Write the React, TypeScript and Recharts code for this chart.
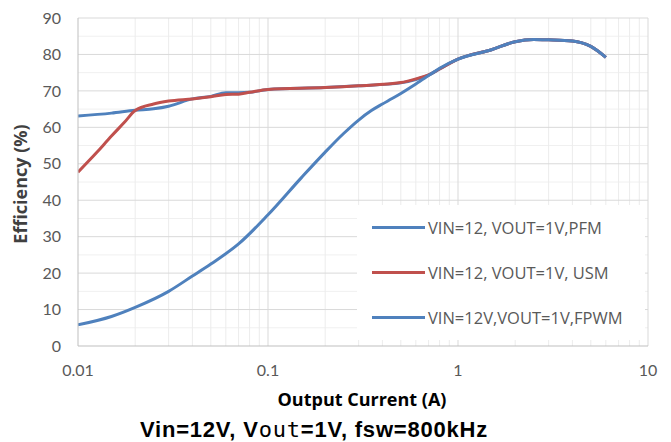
import React from 'react';
import { LineChart, Line, XAxis, YAxis, ReferenceLine, Label } from 'recharts';

// 출력 전류 (A) / 효율 (%)
const pfmCurrent = [0.01, 0.015, 0.02, 0.025, 0.03, 0.04, 0.05, 0.06, 0.07, 0.08, 0.1, 0.2, 0.3, 0.5, 0.6, 0.7, 0.8, 1, 1.5, 2, 2.5, 3, 4, 5, 6];
const pfmEfficiency = [63.1, 63.9, 64.7, 65.1, 65.8, 67.8, 68.5, 69.5, 69.5, 69.6, 70.4, 70.9, 71.4, 72.2, 73.1, 74.3, 76.0, 78.7, 81.3, 83.5, 84.1, 84.0, 83.7, 82.2, 79.2];

const usmCurrent = [0.01, 0.0125, 0.015, 0.0175, 0.02, 0.025, 0.03, 0.04, 0.05, 0.06, 0.07, 0.08, 0.1, 0.2, 0.3, 0.5, 0.6, 0.7, 0.8, 1, 1.5, 2, 2.5, 3, 4, 5, 6];
const usmEfficiency = [47.7, 53.0, 57.6, 61.3, 64.6, 66.4, 67.2, 67.8, 68.4, 69.0, 69.1, 69.6, 70.4, 70.9, 71.4, 72.3, 73.3, 74.4, 76.0, 78.7, 81.3, 83.5, 84.1, 84.0, 83.7, 82.2, 79.2];

const fpwmCurrent = [0.01, 0.015, 0.02, 0.03, 0.04, 0.05, 0.07, 0.1, 0.15, 0.2, 0.25, 0.3, 0.35, 0.4, 0.45, 0.5, 0.6, 0.7, 0.8, 1, 1.5, 2, 2.5, 3, 4, 5, 6];
const fpwmEfficiency = [5.8, 8.1, 10.6, 15.0, 19.2, 22.5, 28.0, 36.0, 46.2, 53.2, 58.3, 62.0, 64.6, 66.4, 67.9, 69.3, 71.9, 74.2, 76.2, 78.7, 81.3, 83.5, 84.1, 84.0, 83.7, 82.2, 79.2];

const xTicks = [0.01, 0.1, 1, 10];
const yTicks = [0, 10, 20, 30, 40, 50, 60, 70, 80, 90];
const yMinor = [5, 15, 25, 35, 45, 55, 65, 75, 85];
const xMinor = [
  0.02, 0.03, 0.04, 0.05, 0.06, 0.07, 0.08, 0.09,
  0.2, 0.3, 0.4, 0.5, 0.6, 0.7, 0.8, 0.9,
  2, 3, 4, 5, 6, 7, 8, 9,
];

const BLUE = '#4f81bd';
const RED = '#c0504d';

const series = [
  { name: 'VIN=12, VOUT=1V,PFM', color: BLUE, current: pfmCurrent, eff: pfmEfficiency },
  { name: 'VIN=12, VOUT=1V, USM', color: RED, current: usmCurrent, eff: usmEfficiency },
  { name: 'VIN=12V,VOUT=1V,FPWM', color: BLUE, current: fpwmCurrent, eff: fpwmEfficiency },
];

const toPoints = (current: number[], eff: number[]) =>
  current.map((c, i) => ({ current: c, eff: eff[i] }));

const tickStyle = { fontFamily: 'Lato', fontSize: 16, fill: '#595959' };
const titleFont = { fontFamily: '"Open Sans"', fontWeight: 700, fontSize: 18 };

export default function App() {
  return (
    <div style={{ position: 'absolute', left: 0, top: 0, width: 671, height: 442, background: '#fff' }}>
      <LineChart width={671} height={442} margin={{ top: 18, right: 23, left: 18, bottom: 66 }}>
        <XAxis
          dataKey="current"
          type="number"
          scale="log"
          domain={[0.01, 10]}
          ticks={xTicks}
          allowDataOverflow
          tickFormatter={(v: number) => String(v)}
          tick={tickStyle}
          tickSize={0}
          tickMargin={19}
          height={30}
          stroke="#bfbfbf"
        >
          <Label
            content={({ viewBox }: any) => (
              <text
                x={viewBox.x + viewBox.width / 2 - 1}
                y={viewBox.y + 60}
                textAnchor="middle"
                style={{ ...titleFont, fill: '#000' }}
              >
                Output Current (A)
              </text>
            )}
          />
        </XAxis>
        <YAxis
          type="number"
          domain={[0, 90]}
          ticks={yTicks}
          tick={tickStyle}
          tickSize={0}
          tickMargin={17}
          width={60}
          stroke="#bfbfbf"
        >
          <Label
            content={({ viewBox }: any) => {
              const cx = viewBox.x + 2;
              const cy = viewBox.y + viewBox.height / 2 + 2;
              return (
                <text
                  x={cx}
                  y={cy}
                  textAnchor="middle"
                  dominantBaseline="central"
                  transform={`rotate(-90, ${cx}, ${cy})`}
                  style={{ ...titleFont, fill: '#404040' }}
                >
                  Efficiency (%)
                </text>
              );
            }}
          />
        </YAxis>

        {/* 보조 격자 */}
        {yMinor.map((v) => (
          <ReferenceLine key={`ym-${v}`} y={v} stroke="#f0f0f0" strokeWidth={1} />
        ))}
        {xMinor.map((v) => (
          <ReferenceLine key={`xm-${v}`} x={v} stroke="#ececec" strokeWidth={1} />
        ))}
        {/* 주 격자 */}
        {yTicks.slice(1).map((v) => (
          <ReferenceLine key={`y-${v}`} y={v} stroke="#d9d9d9" strokeWidth={1} />
        ))}
        {[0.1, 1, 10].map((v) => (
          <ReferenceLine key={`x-${v}`} x={v} stroke="#d9d9d9" strokeWidth={1} />
        ))}

        {series.map((s, i) => (
          <Line
            key={i}
            data={toPoints(s.current, s.eff)}
            dataKey="eff"
            name={s.name}
            type="monotone"
            stroke={s.color}
            strokeWidth={3}
            dot={false}
            activeDot={false}
            isAnimationActive={false}
          />
        ))}
      </LineChart>

      {/* 범례 */}
      <div
        style={{
          position: 'absolute',
          left: 357,
          top: 205,
          width: 288,
          height: 135,
          background: '#fff',
        }}
      >
        {series.map((s, i) => (
          <div
            key={i}
            style={{
              position: 'absolute',
              left: 15,
              top: 22 + i * 45 - 10,
              height: 20,
              display: 'flex',
              alignItems: 'center',
              whiteSpace: 'nowrap',
            }}
          >
            <span style={{ display: 'inline-block', width: 53, height: 3, background: s.color, marginRight: 3 }} />
            <span style={{ fontFamily: '"Open Sans"', fontSize: 16.5, color: '#595959' }}>{s.name}</span>
          </div>
        ))}
      </div>

      {/* 하단 제목 */}
      <div
        style={{
          position: 'absolute',
          left: 0,
          width: 628,
          top: 418,
          textAlign: 'center',
          fontFamily: '"Liberation Sans", Arial, sans-serif',
          fontWeight: 700,
          fontSize: 22,
          letterSpacing: 0.8,
          lineHeight: '24px',
          color: '#000',
          whiteSpace: 'nowrap',
        }}
      >
        Vin=12V, V<span style={{ fontFamily: '"DejaVu Sans Mono", monospace', fontWeight: 400 }}>out</span>=1V, fsw=800kHz
      </div>
    </div>
  );
}
